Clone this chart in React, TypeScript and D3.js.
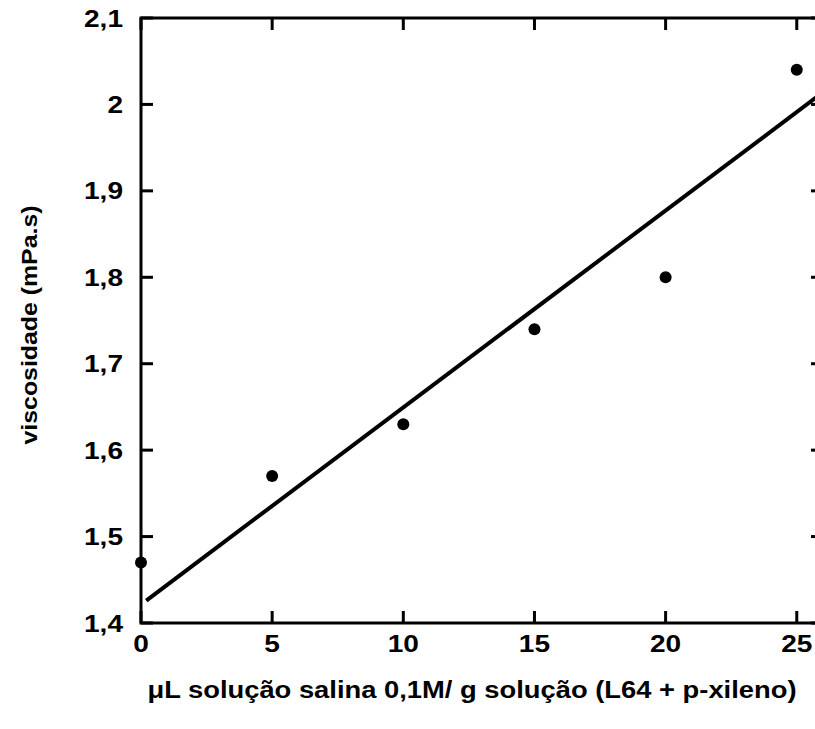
import React from "react";
import * as d3 from "d3";

const xValues = [0, 5, 10, 15, 20, 25];
const yValues = [1.47, 1.57, 1.63, 1.74, 1.8, 2.04];
const fitX = [0.2, 26];
const fitY = [1.426, 2.014];
const xTicks = [0, 5, 10, 15, 20, 25];
const yTicks = [1.4, 1.5, 1.6, 1.7, 1.8, 1.9, 2.0, 2.1];
const xTitle = "\u03bcL solução salina 0,1M/ g solução (L64 + p-xileno)";
const yTitle = "viscosidade (mPa.s)";

const W = 815;
const H = 729;
const left = 141;
const top = 18;
const right = 823;
const bottom = 623;

export default function App() {
  const x = d3.scaleLinear().domain([0, 26]).range([left, right]);
  const y = d3.scaleLinear().domain([1.4, 2.1]).range([bottom, top]);
  const fmt = (v: number) => {
    const s = d3.format("~g")(Math.round(v * 10) / 10);
    return s.replace(".", ",");
  };
  const line = d3
    .line<number>()
    .x((_, i) => x(fitX[i]))
    .y((d) => y(d));
  const font = "'Liberation Sans', Arial, sans-serif";
  const tickLen = 12;
  return (
    <svg
      width={W}
      height={H}
      style={{ position: "absolute", left: 0, top: 0, background: "#fff" }}
    >
      <rect x={0} y={0} width={W} height={H} fill="#fff" />
      {xTicks.map((t) => (
        <g key={"xt" + t}>
          <line x1={x(t)} x2={x(t)} y1={bottom} y2={bottom - tickLen} stroke="#000" strokeWidth={3} />
          <line x1={x(t)} x2={x(t)} y1={top} y2={top + tickLen} stroke="#000" strokeWidth={3} />
        </g>
      ))}
      {yTicks.map((t) => (
        <g key={"yt" + t}>
          <line x1={left} x2={left + tickLen} y1={y(t)} y2={y(t)} stroke="#000" strokeWidth={3} />
          <line x1={right} x2={right - tickLen} y1={y(t)} y2={y(t)} stroke="#000" strokeWidth={3} />
        </g>
      ))}
      <rect
        x={left}
        y={top}
        width={right - left}
        height={bottom - top}
        fill="none"
        stroke="#000"
        strokeWidth={3}
      />
      <path d={line(fitY) || ""} fill="none" stroke="#000" strokeWidth={4} />
      {xValues.map((v, i) => (
        <circle key={"p" + i} cx={x(v)} cy={y(yValues[i])} r={6} fill="#000" />
      ))}
      {xTicks.map((t) => (
        <text
          key={"xl" + t}
          transform={`translate(${x(t)},652) scale(1.17,1)`}
          textAnchor="middle"
          fontFamily={font}
          fontWeight="bold"
          fontSize={24}
        >
          {fmt(t)}
        </text>
      ))}
      {yTicks.map((t) => (
        <text
          key={"yl" + t}
          transform={`translate(123,${y(t) + 8.5}) scale(1.17,1)`}
          textAnchor="end"
          fontFamily={font}
          fontWeight="bold"
          fontSize={24}
        >
          {fmt(t)}
        </text>
      ))}
      <text
        transform={`translate(472,698) scale(1.14,1)`}
        textAnchor="middle"
        fontFamily={font}
        fontWeight="bold"
        fontSize={24}
      >
        {xTitle}
      </text>
      <text
        transform={`translate(37,325) rotate(-90) scale(1.13,1)`}
        textAnchor="middle"
        fontFamily={font}
        fontWeight="bold"
        fontSize={22}
      >
        {yTitle}
      </text>
    </svg>
  );
}
